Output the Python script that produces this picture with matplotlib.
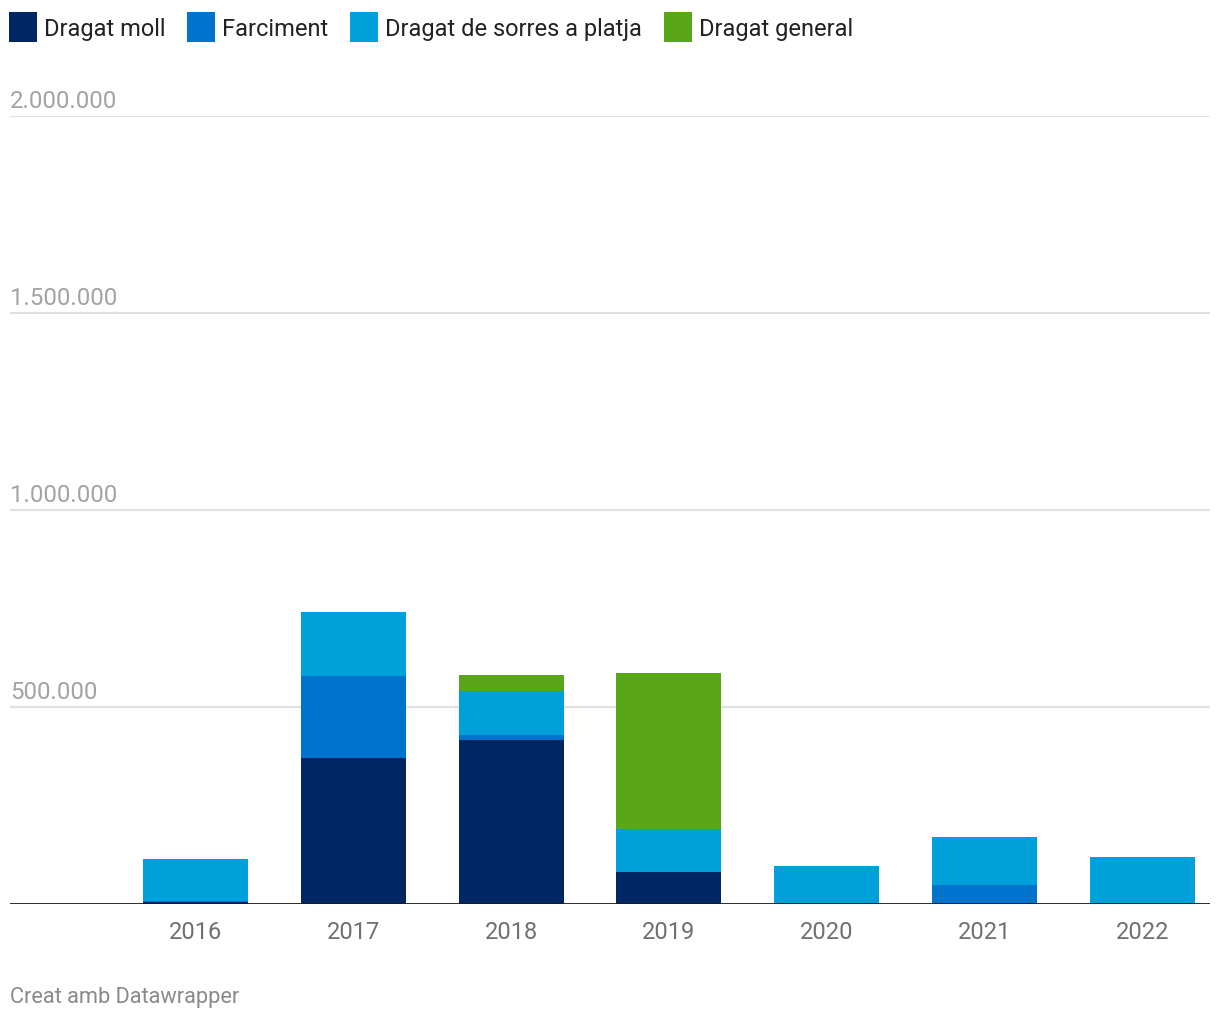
import numpy as np
import matplotlib.pyplot as plt

plt.rcParams['font.family'] = ['Roboto', 'DejaVu Sans']

# data (m3)
years = ['2016', '2017', '2018', '2019', '2020', '2021', '2022']
dragat_moll = [3000, 370000, 414000, 79000, 0, 0, 0]
farciment = [4000, 208000, 13000, 0, 0, 46000, 0]
sorres_platja = [105000, 163000, 112000, 109000, 96000, 124000, 119000]
dragat_general = [0, 0, 40000, 396000, 0, 0, 0]

series = [dragat_moll, farciment, sorres_platja, dragat_general]
names = ['Dragat moll', 'Farciment', 'Dragat de sorres a platja', 'Dragat general']
colors = ['#002663', '#0073cc', '#00a0da', '#59a618']

yticks = [0, 500000, 1000000, 1500000, 2000000]

fig = plt.figure(figsize=(12.2, 10.2), dpi=100)
ax = fig.add_axes([10/1220, 115.5/1020, 1200/1220, 788/1020])

x = np.arange(len(years))
bottom = np.zeros(len(years))
handles = []
for vals, name, col in zip(series, names, colors):
    h = ax.bar(x, vals, width=0.665, bottom=bottom, color=col, label=name, zorder=3)
    handles.append(h)
    bottom += np.array(vals)

ax.set_xlim(-1.174, 6.427)
ax.set_ylim(0, 2000000)

# grid lines and labels sitting above them
for v in yticks[1:]:
    ax.axhline(v, color='#e1e1e1', lw=1.5, zorder=1)
    lab = f"{v:,}".replace(',', '.')
    ax.annotate(lab, xy=(0, v), xycoords=('axes fraction', 'data'),
                xytext=(0, 6), textcoords='offset points',
                ha='left', va='baseline', fontsize=17.3, color='#a3a3a3')
ax.axhline(0, color='#1a1a1a', lw=2, zorder=4)

ax.set_yticks([])
ax.set_xticks(x)
ax.set_xticklabels(years, fontsize=17, color='#707070')
ax.tick_params(axis='x', length=0, pad=12)
for s in ax.spines.values():
    s.set_visible(False)

fig.legend(handles=handles, loc='upper left', bbox_to_anchor=(-10/1220, 1 + 6/1020),
           ncol=4, frameon=False, fontsize=17, handlelength=1.2, handleheight=1.6,
           handletextpad=0.3, columnspacing=0.9, borderpad=0.3,
           labelcolor='#222222')

fig.text(10/1220, 1 - 998/1020, 'Creat amb Datawrapper', fontsize=15.7,
         color='#8a8a8a', ha='left', va='center')

fig.savefig('out.png', dpi=100)
